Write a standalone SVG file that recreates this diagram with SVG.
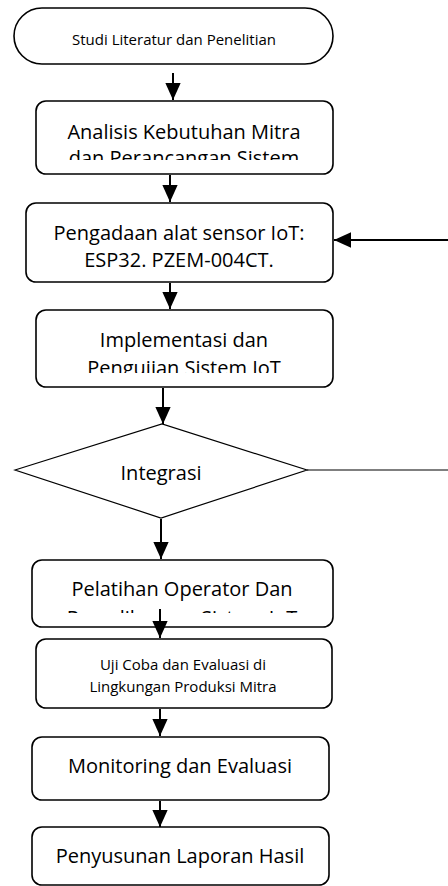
<svg xmlns="http://www.w3.org/2000/svg" width="448" height="886" viewBox="0 0 448 886">
<defs>
<style>
.box{fill:#fff;stroke:#000;stroke-width:1.6}
.t{font-family:"Open Sans","Noto Sans","DejaVu Sans",sans-serif;font-size:20px;fill:#000;text-anchor:middle}
.s{font-size:15px}
.c{stroke:#000;stroke-width:2;fill:none}
.thin{stroke:#000;stroke-width:1.2;fill:none}
</style>
<marker id="ah" viewBox="0 0 10 10" refX="10" refY="5" markerWidth="17" markerHeight="17" markerUnits="userSpaceOnUse" orient="auto">
<path d="M0,0.5 L10,5 L0,9.5 Z" fill="#000"/>
</marker>
<clipPath id="c2"><rect x="0" y="100" width="448" height="60"/></clipPath>
<clipPath id="c4"><rect x="0" y="300" width="448" height="73"/></clipPath>
<clipPath id="c5"><rect x="0" y="560" width="448" height="53"/></clipPath>
<clipPath id="c7"><rect x="0" y="737" width="448" height="49"/></clipPath>
</defs>

<g id="n1">
<rect class="box" x="14" y="8" width="319" height="56" rx="28" ry="28"/>
<text class="t s" x="174" y="45">Studi Literatur dan Penelitian</text>
</g>

<g id="n2">
<rect class="box" x="36" y="101" width="297" height="73" rx="10"/>
<g clip-path="url(#c2)">
<text class="t" x="184" y="139">Analisis Kebutuhan Mitra</text>
<text class="t" x="184" y="165">dan Perancangan Sistem</text>
</g>
</g>

<g id="n3">
<rect class="box" x="26" y="203" width="307" height="79" rx="10"/>
<text class="t" x="179" y="240">Pengadaan alat sensor IoT:</text>
<text class="t" x="179" y="267">ESP32. PZEM-004CT.</text>
</g>

<g id="n4">
<rect class="box" x="36" y="310" width="297" height="77" rx="10"/>
<g clip-path="url(#c4)">
<text class="t" x="184" y="347">Implementasi dan</text>
<text class="t" x="184" y="375">Pengujian Sistem IoT</text>
</g>
</g>

<g id="n5">
<polygon class="box" points="15,470 162,424 307,470 161,518" style="stroke-width:1.2"/>
<text class="t" x="161" y="480">Integrasi</text>
</g>

<g id="n6">
<rect class="box" x="32" y="560" width="301" height="67" rx="10"/>
<g clip-path="url(#c5)">
<text class="t" x="182" y="596">Pelatihan Operator Dan</text>
<text class="t" x="182" y="625">Pemeliharaan Sistem IoT</text>
</g>
</g>

<g id="n7">
<rect class="box" x="36" y="639" width="296" height="69" rx="10"/>
<text class="t s" x="183" y="670">Uji Coba dan Evaluasi di</text>
<text class="t s" x="183" y="692">Lingkungan Produksi Mitra</text>
</g>

<g id="n8">
<rect class="box" x="32" y="737" width="297" height="63" rx="10"/>
<g clip-path="url(#c7)">
<text class="t" x="180" y="773">Monitoring dan Evaluasi</text>
<text class="t" x="180" y="801">Penggunaan Sistem IoT</text>
</g>
</g>

<g id="n9">
<rect class="box" x="32" y="827" width="297" height="58" rx="10"/>
<text class="t" x="180" y="863">Penyusunan Laporan Hasil</text>
</g>

<g id="connectors">
<path class="c" d="M173,73 V100" marker-end="url(#ah)"/>
<path class="c" d="M170,175 V202" marker-end="url(#ah)"/>
<path class="c" d="M170,283 V309" marker-end="url(#ah)"/>
<path class="c" d="M163,388 V424" marker-end="url(#ah)"/>
<path class="c" d="M161,519 V559" marker-end="url(#ah)"/>
<path class="c" d="M160,609 V638" marker-end="url(#ah)"/>
<path class="c" d="M160,709 V736" marker-end="url(#ah)"/>
<path class="c" d="M160,801 V827" marker-end="url(#ah)"/>
<path class="thin" d="M307,470 H452"/>
<path class="c" d="M452,240 H334" marker-end="url(#ah)"/>
</g>
</svg>
